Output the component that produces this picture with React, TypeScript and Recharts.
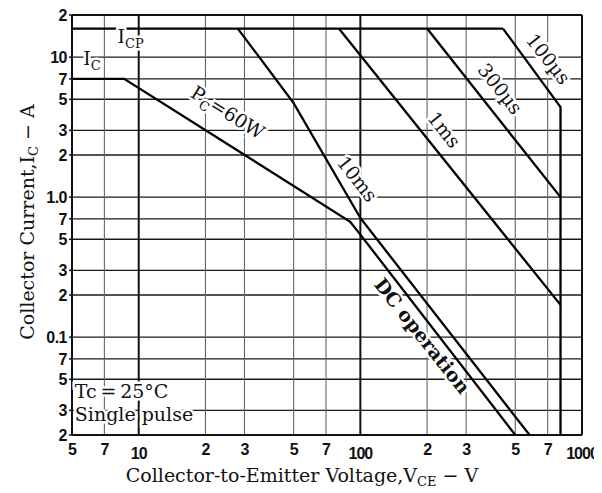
import React from 'react'
import {
  LineChart,
  Line,
  XAxis,
  YAxis,
  ReferenceLine,
  ReferenceArea,
  ReferenceDot,
} from 'recharts'

// axis ticks (value + printed label)
const xTicks = [5, 7, 10, 20, 30, 50, 70, 100, 200, 300, 500, 700, 1000]
const xTickText = ['5', '7', '10', '2', '3', '5', '7', '100', '2', '3', '5', '7', '1000']
const yTicks = [0.02, 0.03, 0.05, 0.07, 0.1, 0.2, 0.3, 0.5, 0.7, 1, 2, 3, 5, 7, 10, 20]
const yTickText = ['2', '3', '5', '7', '0.1', '2', '3', '5', '7', '1.0', '2', '3', '5', '7', '10', '2']

// SOA boundaries, VCE (V) / IC (A)
const icpV = [5, 440]
const icpI = [16, 16]
const dcV = [5, 8.6, 90, 100, 500]
const dcI = [7, 7, 0.667, 0.54, 0.02]
const ms10V = [28, 50, 100, 580]
const ms10I = [16, 4.7, 0.71, 0.02]
const ms1V = [80, 800]
const ms1I = [16, 0.17]
const us300V = [200, 800]
const us300I = [16, 1.0]
const us100V = [440, 800, 800]
const us100I = [16, 4.4, 0.02]

const toPoints = (v: number[], i: number[]) => v.map((x, k) => ({ v: x, i: i[k] }))

const series = [
  toPoints(icpV, icpI),
  toPoints(dcV, dcI),
  toPoints(ms10V, ms10I),
  toPoints(ms1V, ms1I),
  toPoints(us300V, us300I),
  toPoints(us100V, us100I),
]

const SERIF = '"DejaVu Serif", "Liberation Serif", serif'
const SANS = '"Liberation Sans", Arial, sans-serif'

type Note = { v: number; i: number; angle: number; bold?: boolean; anchor?: string; parts: [string, boolean][] }

// curve annotations placed in data space
const notes: Note[] = [
  { v: 9.2, i: 12.6, angle: 0, parts: [['I', false], ['CP', true]] },
  { v: 6.15, i: 8.8, angle: 0, parts: [['I', false], ['C', true]] },
  { v: 24.3, i: 3.67, angle: 32, parts: [['P', false], ['C', true], ['=60W', false]] },
  { v: 91.7, i: 1.26, angle: 51.6, parts: [['10ms', false]] },
  { v: 226, i: 2.83, angle: 51.6, parts: [['1ms', false]] },
  { v: 405, i: 5.55, angle: 51.6, parts: [['300\u00b5s', false]] },
  { v: 667, i: 9.08, angle: 51.6, parts: [['100\u00b5s', false]] },
  { v: 180, i: 0.0955, angle: 51.6, bold: true, parts: [['DC operation', false]] },
  { v: 5.15, i: 0.0367, angle: 0, anchor: 'start', parts: [['Tc\u2009=\u200925\u00b0C', false]] },
  { v: 5.15, i: 0.0252, angle: 0, anchor: 'start', parts: [['Single pulse', false]] },
]

function NoteText(props: any) {
  const { viewBox, note } = props
  const n = note as Note
  const x = viewBox.x
  const y = viewBox.y
  return (
    <text
      x={x}
      y={y}
      dy="0.35em"
      textAnchor={n.anchor || 'middle'}
      transform={`rotate(${n.angle} ${x} ${y})`}
      fontFamily={SERIF}
      fontSize={19}
      fontWeight={n.bold ? 'bold' : 'normal'}
      fill="#111"
      stroke="#fff"
      strokeWidth={5}
      paintOrder="stroke"
    >
      {n.parts.map(([t, sub], k) => (
        <tspan key={k} fontSize={sub ? 13 : 19} dy={sub ? 5 : k > 0 ? -5 : 0}>
          {t}
        </tspan>
      ))}
    </text>
  )
}

function XTick(props: any) {
  const { x, y, payload } = props
  const idx = xTicks.indexOf(payload.value)
  const decade = [10, 100, 1000].includes(payload.value)
  return (
    <text x={x} y={y + (decade ? 16 : 12)} textAnchor="middle" fontFamily={SANS} fontWeight="bold" fontSize={16} letterSpacing={-1} fill="#111">
      {xTickText[idx]}
    </text>
  )
}

function YTick(props: any) {
  const { x, y, payload } = props
  const idx = yTicks.indexOf(payload.value)
  return (
    <text x={x} y={y} dy="0.36em" textAnchor="end" fontFamily={SANS} fontWeight="bold" fontSize={16} letterSpacing={-0.5} fill="#111">
      {yTickText[idx]}
    </text>
  )
}

function XLabel(props: any) {
  const { viewBox } = props
  return (
    <text x={viewBox.x + viewBox.width / 2 - 25} y={viewBox.y + 47} textAnchor="middle" fontFamily={SERIF} fontSize={19} fill="#111">
      Collector-to-Emitter Voltage,V
      <tspan fontSize={13} dy={4}>CE</tspan>
      <tspan dy={-4}> {'\u2212'} V</tspan>
    </text>
  )
}

function YLabel(props: any) {
  const { viewBox } = props
  const cx = viewBox.x + 26
  const cy = viewBox.y + viewBox.height / 2 - 3
  return (
    <text x={cx} y={cy} textAnchor="middle" transform={`rotate(-90 ${cx} ${cy})`} fontFamily={SERIF} fontSize={19} fill="#111">
      Collector Current,I
      <tspan fontSize={13} dy={4}>C</tspan>
      <tspan dy={-4}> {'\u2212'} A</tspan>
    </text>
  )
}

export default function App() {
  return (
    <div style={{ background: '#fff' }}>
      <LineChart width={594} height={485} margin={{ top: 7, right: 20, left: 0, bottom: 0 }}>
        <XAxis
          dataKey="v"
          type="number"
          scale="log"
          domain={[5, 1000]}
          ticks={xTicks}
          interval={0}
          allowDataOverflow
          height={58}
          axisLine={false}
          tickLine={false}
          tick={<XTick />}
          label={<XLabel />}
        />
        <YAxis
          dataKey="i"
          type="number"
          scale="log"
          domain={[0.02, 20]}
          ticks={yTicks}
          interval={0}
          allowDataOverflow
          width={64}
          axisLine={false}
          tickSize={3}
          tickMargin={2}
          tickLine={{ stroke: '#111', strokeWidth: 1.5 }}
          tick={<YTick />}
          label={<YLabel />}
        />
        {yTicks.map((t) => (
          <ReferenceLine key={'h' + t} y={t} stroke="#1a1a1a" strokeWidth={1.4} />
        ))}
        {xTicks.map((t) => (
          <ReferenceLine
            key={'v' + t}
            x={t}
            stroke={t === 10 || t === 100 ? '#111' : '#666'}
            strokeWidth={t === 10 || t === 100 ? 2 : 1.1}
          />
        ))}
        <ReferenceArea x1={5} x2={200} y1={0.02} y2={0.048} fill="#fff" fillOpacity={1} stroke="none" />
        <ReferenceLine x={5} stroke="#111" strokeWidth={2} />
        <ReferenceLine x={1000} stroke="#111" strokeWidth={2} />
        <ReferenceLine y={0.02} stroke="#111" strokeWidth={2} />
        <ReferenceLine y={20} stroke="#111" strokeWidth={2} />
        {series.map((d, k) => (
          <Line
            key={k}
            data={d}
            dataKey="i"
            type="linear"
            stroke="#000"
            strokeWidth={2.3}
            dot={false}
            activeDot={false}
            isAnimationActive={false}
          />
        ))}
        {notes.map((n, k) => (
          <ReferenceDot key={'n' + k} x={n.v} y={n.i} r={0} fill="none" stroke="none" label={<NoteText note={n} />} />
        ))}
      </LineChart>
    </div>
  )
}
